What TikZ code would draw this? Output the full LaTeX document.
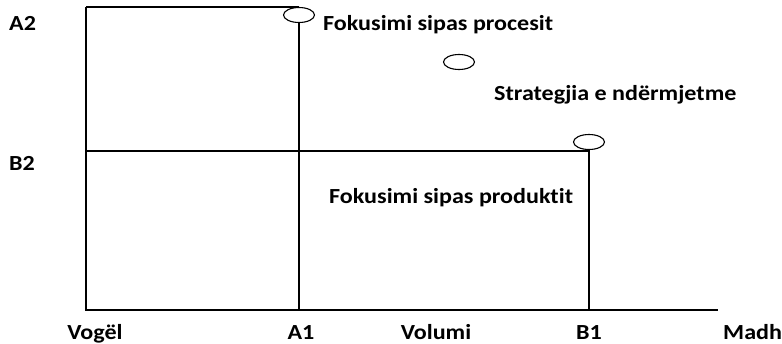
\documentclass[tikz,border=0pt]{standalone}
\usepackage{fontspec}
\setmainfont{Carlito}[Ligatures=NoCommon]
\usetikzlibrary{shapes.geometric}
\begin{document}
\begin{tikzpicture}[x=1pt,y=-1pt,
  lbl/.style={font=\bfseries\fontsize{21.5}{24}\selectfont, inner sep=0pt, xscale=1.12},
  axis/.style={line width=1.6pt},
  guide/.style={line width=1.3pt},
  mark ring/.style={ellipse, draw, line width=1.1pt, minimum width=31pt, minimum height=15pt, inner sep=0pt, fill=white}]
\useasboundingbox (0,0) rectangle (782,343);
% coordinates
\coordinate (o) at (86,310);
\coordinate (tl) at (86,7);
\coordinate (xe) at (718,310);
\coordinate (b2l) at (86,151);
% axes
\draw[axis] (tl) -- (o) -- (xe);
% rings
\node[mark ring] (r1) at (299,15) {};
\node[mark ring] (r2) at (459,62) {};
\node[mark ring] (r3) at (589,142) {};
% guides
\draw[axis] (tl) -- (r1.north |- tl);
\draw[guide] (r1.south) -- (r1.south |- o);
\draw[axis] (b2l) -- (r3.south |- b2l);
\draw[guide] (r3.south) -- (r3.south |- o);
% labels
\node[lbl, anchor=base west] (t1) at (323,30) {Fokusimi sipas procesit};
\node[lbl, anchor=base west] (t2) at (494,100) {Strategjia e ndërmjetme};
\node[lbl, anchor=base west] (t3) at (329,203) {Fokusimi sipas produktit};
\node[lbl, anchor=base west] (a2) at (9,30) {A2};
\node[lbl, anchor=base west] (b2) at (9,170) {B2};
\node[lbl, anchor=base] (vo) at (95,339) {Vogël};
\node[lbl, anchor=base] (a1) at (301,339) {A1};
\node[lbl, anchor=base] (vl) at (436,339) {Volumi};
\node[lbl, anchor=base] (b1) at (589,339) {B1};
\node[lbl, anchor=base west] (md) at (723,339) {Madh};
\end{tikzpicture}
\end{document}
